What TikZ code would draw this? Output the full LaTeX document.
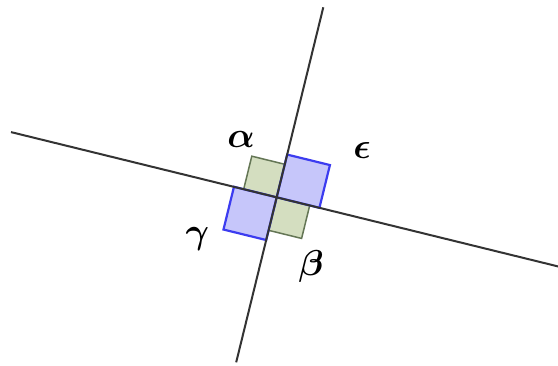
\RequirePackage{fix-cm}
\documentclass[tikz,border=0pt]{standalone}
\usepackage{amsmath}
\usepackage{bm}
\begin{document}
\begin{tikzpicture}[x=1pt,y=1pt,
  mainline/.style={draw=black!80, line width=2pt},
  bluesq/.style={draw={rgb,255:red,60;green,60;blue,240}, fill={rgb,255:red,198;green,198;blue,250}, line width=2.2pt, line join=miter},
  greensq/.style={draw={rgb,255:red,100;green,118;blue,85}, fill={rgb,255:red,212;green,222;blue,192}, line width=1.5pt, line join=miter},
  lbl/.style={font=\fontsize{36}{36}\selectfont\boldmath, inner sep=0pt}]
\useasboundingbox[fill=white] (0,0) rectangle (558,-365);
\coordinate (O) at (276.7,-197.3);
\coordinate (L1a) at (11,-132.1);
\coordinate (L1b) at (558,-266.4);
\coordinate (L2a) at (323.3,-7.3);
\coordinate (L2b) at (236.2,-362.3);
\begin{scope}[shift={(O)}, rotate=-13.8]
  \path[greensq] (0,0) rectangle (-34,34);
  \path[greensq] (0,0) rectangle (34,-34);
  \path[bluesq] (0,0) rectangle (44,44);
  \path[bluesq] (0,0) rectangle (-44,-44);
\end{scope}
\draw[mainline] (L1a) -- (L1b);
\draw[mainline] (L2a) -- (L2b);
\node[lbl] (alpha) at (241,-139) {$\alpha$};
\node[lbl] (eps) at (362,-150) {$\epsilon$};
\node[lbl] (gamma) at (197.5,-239) {$\gamma$};
\node[lbl] (beta) at (311,-266) {$\beta$};
\end{tikzpicture}
\end{document}
